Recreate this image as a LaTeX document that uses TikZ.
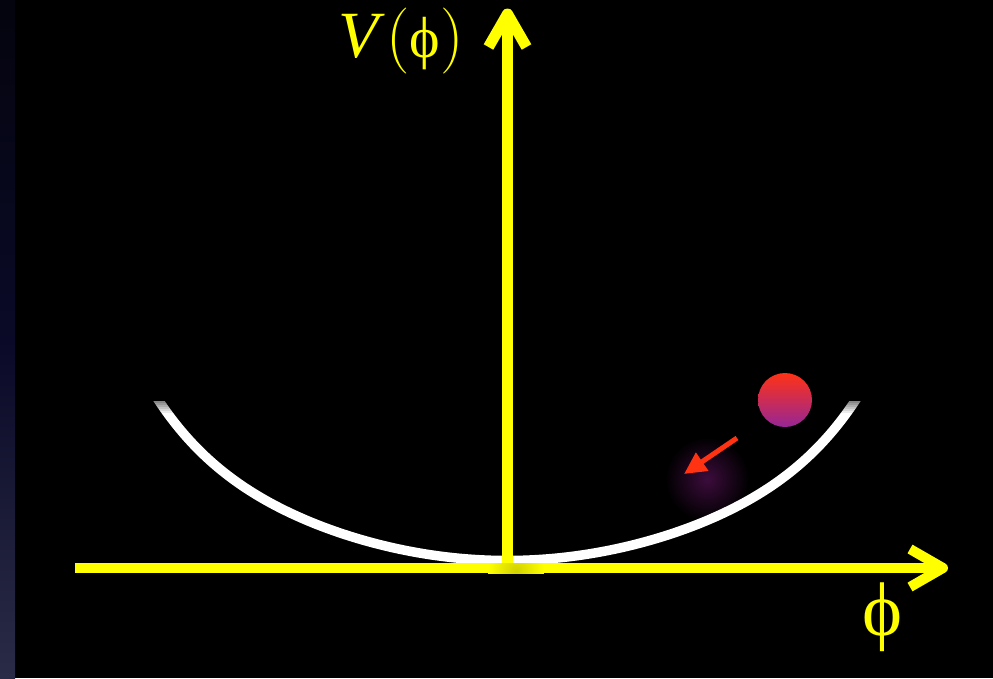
\documentclass[tikz,border=0pt]{standalone}
\usepackage{fontspec}
\setmainfont{Liberation Serif}
\newfontfamily\lmr{Latin Modern Roman}
\usetikzlibrary{arrows.meta}
\definecolor{axisyellow}{RGB}{255,255,0}
\definecolor{balltop}{RGB}{255,50,22}
\definecolor{ballbot}{RGB}{150,38,150}
\definecolor{arrowred}{RGB}{255,51,17}
\definecolor{glowpurple}{RGB}{60,12,60}
\definecolor{striptop}{RGB}{4,4,14}
\definecolor{stripmid}{RGB}{10,10,40}
\definecolor{stripbot}{RGB}{42,43,70}
\tikzset{
  axisline/.style={draw=axisyellow, line cap=butt},
  chevron/.style={draw=axisyellow, line cap=butt, line join=round},
  bowl/.style={draw=white, line width=9.5},
  lbl/.style={text=axisyellow, inner sep=0pt},
  push/.style={draw=arrowred, line width=5, -{Triangle[length=22pt,width=21pt]}},
}
\begin{document}
\begin{tikzpicture}[x=1pt,y=-1pt]
\fill[black] (0,0) rectangle (993,678);
\useasboundingbox (0,0) rectangle (993,678);
\shade[top color=striptop, bottom color=stripbot, middle color=stripmid] (0,0) rectangle (15,678);
% glow
\shade[inner color=glowpurple, outer color=black] (707,479) circle (42);
% bowl
\begin{scope}
  \clip (0,401) rectangle (993,678);
  \draw[bowl] plot[domain=-3.62:3.62, samples=181] ({507+100*\x},{560.5-9.8*\x*\x-40.8*(abs(\x)/3.48)^7});
\end{scope}
% fade at the bowl's ends
\foreach \i in {0,...,5}{
  \fill[black, opacity={0.48-0.08*\i}] (140,401+2*\i) rectangle (185,403+2*\i);
  \fill[black, opacity={0.48-0.08*\i}] (830,401+2*\i) rectangle (875,403+2*\i);
}
% coordinates
\coordinate (xs) at (75,568);
\coordinate (xe) at (943,568);
\coordinate (ys) at (507.5,566);
\coordinate (ye) at (507.5,14);
% axes
\draw[axisline, line width=11] (ys) -- (ye);
\draw[chevron, line width=11] ([shift={(-19,33)}]ye) -- (ye) -- ([shift={(19,33)}]ye);
\draw[axisline, line width=10] (xs) -- (xe);
\draw[chevron, line width=10] ([shift={(-33,-19)}]xe) -- (xe) -- ([shift={(-33,19)}]xe);
% intersection shadow
\begin{scope}
  \clip (480,563) rectangle (560,573);
  \shade[inner color=axisyellow!82!black, outer color=axisyellow] (516,571) circle (28);
\end{scope}
% labels
\node[lbl, anchor=base west] (vlab) at (338,57) {\fontsize{66}{66}\selectfont\itshape V\hspace{8pt}{\upshape\lmr(}{\upshape\fontsize{58}{58}\selectfont ϕ}{\upshape\lmr)}};
\node[lbl, anchor=base] (philab) at (882,635) {\fontsize{76}{76}\selectfont ϕ};
% ball
\node[circle, minimum size=54pt, inner sep=0pt, top color=balltop, bottom color=ballbot, draw=none] (ball) at (785,400) {};
% arrow
\coordinate (as) at (737,438);
\coordinate (ae) at (684,474);
\draw[push] (as) -- (ae);
\end{tikzpicture}
\end{document}
